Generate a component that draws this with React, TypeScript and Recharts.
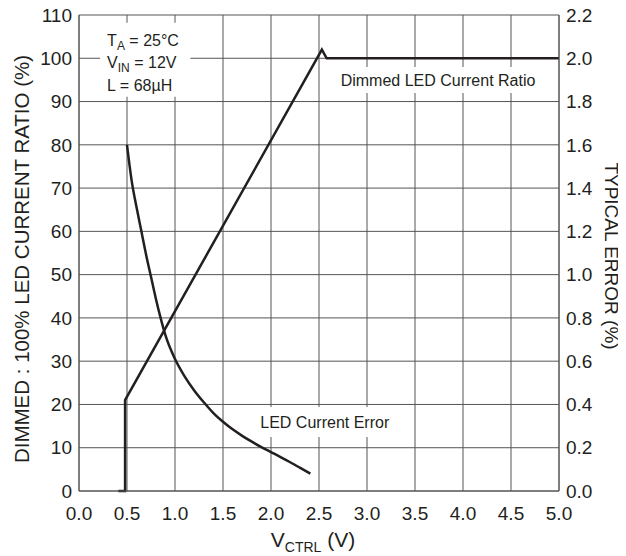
import React from 'react';
import { LineChart, Line, XAxis, YAxis, CartesianGrid, ReferenceArea, Label } from 'recharts';

// dimmed : 100% ratio (left axis, %)
const ratioVolts = [0.41, 0.48, 0.48, 2.53, 2.58, 5.0];
const ratioValues = [0, 0, 21, 102, 100, 100];

// typical error (right axis, %)
const errorVolts = [0.5, 0.55, 0.6, 0.65, 0.7, 0.75, 0.8, 0.85, 0.9, 1.0, 1.1, 1.2, 1.3, 1.4, 1.5, 1.6, 1.7, 1.8, 1.9, 2.0, 2.1, 2.2, 2.3, 2.41];
const errorValues = [1.6, 1.43, 1.31, 1.2, 1.09, 0.99, 0.89, 0.8, 0.72, 0.61, 0.53, 0.465, 0.41, 0.36, 0.32, 0.285, 0.255, 0.228, 0.203, 0.18, 0.157, 0.133, 0.108, 0.08];

const xTicks = [0, 0.5, 1, 1.5, 2, 2.5, 3, 3.5, 4, 4.5, 5];
const leftTicks = [0, 10, 20, 30, 40, 50, 60, 70, 80, 90, 100, 110];
const rightTicks = [0, 0.2, 0.4, 0.6, 0.8, 1.0, 1.2, 1.4, 1.6, 1.8, 2.0, 2.2];

const ratioData = ratioVolts.map((v, i) => ({ v, ratio: ratioValues[i] }));
const errorData = errorVolts.map((v, i) => ({ v, error: errorValues[i] }));

const FONT = "'Liberation Sans', Arial, Helvetica, sans-serif";
const INK = '#231f20';
const GRID = '#555';

const tickStyle = { fontSize: 19, fill: INK, fontFamily: FONT };

const ConditionsLabel = (props: any) => {
  const { x, y } = props.viewBox;
  const tx = x + 7;
  return (
    <g fontFamily={FONT} fontSize={16} fill={INK}>
      <text x={tx} y={y + 23}>
        T<tspan fontSize={12} dy={4}>A</tspan>
        <tspan dy={-4}> = 25°C</tspan>
      </text>
      <text x={tx} y={y + 45}>
        V<tspan fontSize={12} dy={4}>IN</tspan>
        <tspan dy={-4}> = 12V</tspan>
      </text>
      <text x={tx} y={y + 68}>L = 68µH</text>
    </g>
  );
};

const centerText = (txt: string, base: number) => (props: any) => {
  const { x, y, width } = props.viewBox;
  return (
    <text x={x + width / 2} y={y + base} textAnchor="middle" fontFamily={FONT} fontSize={16} fill={INK}>
      {txt}
    </text>
  );
};

const LeftTitle = (props: any) => {
  const { x, y, height } = props.viewBox;
  const cx = x + 1;
  const cy = y + height / 2 + 6;
  return (
    <text x={cx} y={cy} transform={`rotate(-90 ${cx} ${cy})`} textAnchor="middle" dominantBaseline="central"
      fontFamily={FONT} fontSize={20.5} fill={INK}>
      DIMMED : 100% LED CURRENT RATIO (%)
    </text>
  );
};

const RightTitle = (props: any) => {
  const { x, y, height } = props.viewBox;
  const cx = x + 52;
  const cy = y + height / 2 + 3;
  return (
    <text x={cx} y={cy} transform={`rotate(90 ${cx} ${cy})`} textAnchor="middle" dominantBaseline="central"
      fontFamily={FONT} fontSize={19} fill={INK}>
      TYPICAL ERROR (%)
    </text>
  );
};

const XTitle = (props: any) => {
  const { x, y, width } = props.viewBox;
  return (
    <text x={x + width / 2 - 6} y={y + 56} textAnchor="middle" fontFamily={FONT} fontSize={21} fill={INK}>
      V<tspan fontSize={14} dy={5}>CTRL</tspan>
      <tspan dy={-5}> (V)</tspan>
    </text>
  );
};

export default function App() {
  return (
    <div style={{ width: 626, height: 556, marginTop: -8, marginLeft: -8, background: '#fff' }}>
      <LineChart width={626} height={556} margin={{ top: 15, right: 15, bottom: 8, left: 20 }}>
        <CartesianGrid yAxisId="left" stroke={GRID} strokeWidth={1} />
        <XAxis
          dataKey="v"
          type="number"
          domain={[0, 5]}
          ticks={xTicks}
          tickFormatter={(t: number) => t.toFixed(1)}
          tick={tickStyle}
          tickLine={false}
          tickSize={0}
          tickMargin={16}
          height={57}
          axisLine={{ stroke: GRID }}
          allowDataOverflow
        >
          <Label content={XTitle} />
        </XAxis>
        <YAxis
          yAxisId="left"
          domain={[0, 110]}
          ticks={leftTicks}
          tick={tickStyle}
          tickLine={false}
          tickSize={0}
          tickMargin={7}
          width={59}
          axisLine={{ stroke: GRID }}
          interval={0}
        >
          <Label content={LeftTitle} />
        </YAxis>
        <YAxis
          yAxisId="right"
          orientation="right"
          domain={[0, 2.2]}
          ticks={rightTicks}
          tickFormatter={(t: number) => t.toFixed(1)}
          tick={tickStyle}
          tickLine={false}
          tickSize={0}
          tickMargin={7}
          width={52}
          axisLine={{ stroke: GRID }}
          interval={0}
        >
          <Label content={RightTitle} />
        </YAxis>
        <ReferenceArea yAxisId="left" x1={0.22} x2={1.16} y1={91.1} y2={108.2} fill="#fff" fillOpacity={1} stroke="none"
          label={ConditionsLabel} />
        <ReferenceArea yAxisId="left" x1={2.68} x2={4.8} y1={92} y2={98} fill="#fff" fillOpacity={1} stroke="none"
          label={centerText('Dimmed LED Current Ratio', 19)} />
        <ReferenceArea yAxisId="left" x1={1.8} x2={3.32} y1={12.5} y2={19.4} fill="#fff" fillOpacity={1} stroke="none"
          label={centerText('LED Current Error', 21)} />
        <Line
          yAxisId="left"
          data={ratioData}
          dataKey="ratio"
          type="linear"
          stroke={INK}
          strokeWidth={2.5}
          dot={false}
          isAnimationActive={false}
        />
        <Line
          yAxisId="right"
          data={errorData}
          dataKey="error"
          type="monotone"
          stroke={INK}
          strokeWidth={2.5}
          dot={false}
          isAnimationActive={false}
        />
      </LineChart>
    </div>
  );
}
